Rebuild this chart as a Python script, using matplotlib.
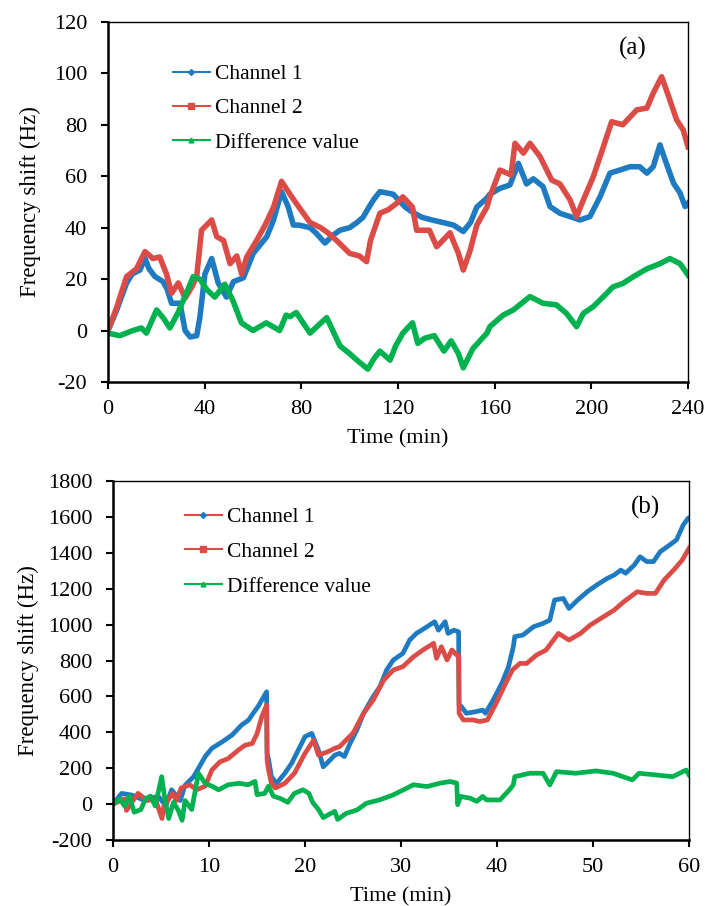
import matplotlib
matplotlib.use("Agg")
import matplotlib.pyplot as plt
from matplotlib.lines import Line2D

plt.rcParams['font.family'] = ['Liberation Serif', 'DejaVu Serif']
plt.rcParams['font.size'] = 15
plt.rcParams['axes.unicode_minus'] = False

# ---------------- Panel (a) data ----------------
a_ch1_t = [0, 3.6, 7.7, 10, 13.2, 15.3, 17, 19.4, 22.8, 24.5, 26.3, 29.8, 31.9, 34, 36.7, 38, 40.1, 42.9,
           45.6, 49, 51.9, 56, 60.1, 65.7, 68.5, 71.8, 74.6, 76.7, 79, 83.6, 86, 89.8, 93, 96, 100, 103,
           105.5, 108, 110, 112.5, 118, 123, 126, 130, 134, 138.6, 143, 147, 150, 152.6, 156.8, 158, 162.2,
           166.3, 169.8, 173.2, 176, 180, 182.9, 187, 191.2, 195.3, 199.4, 203.6, 207.7, 211.8, 216, 220,
           223, 225.6, 228.4, 230.5, 234, 236.7, 238.8, 240]
a_ch1_v = [0, 8, 18.5, 22, 23.5, 28, 24, 21, 19, 16, 10.6, 10.6, 0, -2.5, -2, 5, 22, 28,
           18.5, 13, 19, 20.5, 30, 36.5, 43, 54, 48, 41, 41, 40, 38, 34, 37, 39, 40, 42,
           44, 48, 51, 54, 53, 48, 46, 44, 43, 42, 41, 38.5, 42, 48, 51.5, 53, 55.3,
           56.6, 65, 57, 59, 56, 48.2, 45.6, 44.3, 43, 44.3, 52, 61.2, 62.4, 63.7, 63.7,
           61.2, 63.7, 72.2, 66.4, 57.3, 53.5, 48.2, 49.5]

a_ch2_t = [0, 3.6, 7.7, 11.8, 15.3, 18.6, 21.4, 24.2, 26.3, 29.1, 31.9, 34.7, 36.7, 38.7, 42.9, 45, 47.8,
           50.5, 53.3, 55.3, 57.4, 61.5, 65, 68.5, 71.8, 76, 79, 83.6, 88, 91, 94.6, 100, 104, 107, 108.6,
           112.5, 116, 119.5, 122, 126, 127.7, 133, 136, 138.5, 141.5, 145, 147, 149.8, 152.6, 156.8, 158,
           162.2, 166.8, 168.4, 171.9, 174.6, 178.8, 183.6, 187, 191.2, 193.9, 196.7, 200.8, 205, 208.4,
           213, 218.8, 223, 225.6, 229.1, 232.5, 235.3, 238, 240]
a_ch2_v = [0, 9, 21, 24, 30.7, 28, 28.6, 22, 14.5, 18.5, 12.6, 17, 21, 39, 43, 36.5, 35,
           26, 29, 22, 28.6, 35, 41, 48, 58, 52, 48, 42, 40, 38, 35, 30, 29, 26.8, 35,
           45.6, 47, 49.5, 52, 48, 39, 39, 32.6, 35, 38, 30, 23.5, 31, 41, 48, 52,
           62.4, 60.5, 72.8, 69, 72.8, 67.6, 58.5, 57, 50.8, 44.3, 50.8, 59.8, 71.5, 81.2,
           80, 85.8, 86.5, 92.3, 98.7, 89.6, 81.9, 78, 71.5]

a_diff_t = [0, 4.8, 10.3, 13.8, 15.9, 20.1, 22.8, 25.6, 29, 32.4, 35.3, 38, 40.8, 44.2, 48.3, 51.7, 55.2,
            60, 65.5, 71, 73.7, 75.3, 77.9, 80, 83.6, 87, 90.5, 93, 96, 100, 103, 107.5, 110, 112.5,
            116.7, 119, 122, 126, 128.2, 131, 135, 139, 142, 145, 147, 151, 156.8, 158, 163.5, 167.7,
            174.6, 180, 185.5, 189.7, 193.9, 196.7, 200.8, 205, 209, 213, 217.5, 223, 228.4, 232.5, 236.7, 240]
a_diff_v = [-1, -2, 0, 1, -1, 8, 5, 1, 7, 14.5, 21, 20, 16, 13, 18, 11.6, 3,
            0, 3, 0, 6, 5.4, 7, 4, -1, 2, 5, 0, -6, -9, -11.5, -15, -11, -8,
            -11.5, -6, -1, 3, -5, -3, -2, -8, -4, -9, -14.5, -7, -1, 1.5, 6, 8,
            13.2, 10.6, 10, 6.7, 1.5, 6.7, 9.3, 13.2, 17, 18.3, 21, 24, 26, 28, 26, 21.6]

# ---------------- Panel (b) data ----------------
b_ch1_t = [0, 0.9, 2, 3.3, 4.7, 5.5, 6.1, 7, 7.5, 8.4, 9.1, 9.6, 10.3, 11.4, 12.4, 13.4, 14.1, 14.6, 15.1,
           16, 16.05, 16.2, 16.5, 17.05, 17.9, 18.6, 19.3, 20, 20.7, 21.4, 21.9, 22.6, 23.1, 23.6, 24.1,
           24.7, 25.4, 26.1, 27.1, 27.8, 28.5, 29.2, 30.2, 30.9, 31.6, 32.7, 33.5, 33.9, 34.6, 34.9, 35.5,
           36, 36.05, 36.3, 36.8, 37.8, 38.5, 38.8, 39.6, 40.5, 41.2, 41.7, 41.85, 42.7, 43.8, 44.8, 45.5,
           46, 46.9, 47.5, 48.4, 49.4, 50.4, 51.5, 52.2, 52.9, 53.4, 54.3, 54.9, 55.6, 56.3, 57, 58, 58.7,
           59.4, 59.9, 60]
b_ch1_v = [0, 60, 50, 20, 45, -10, 80, 20, 105, 153, 218, 265, 311, 348, 385, 441, 467, 506, 543,
           626, 285, 250, 153, 116, 172, 227, 301, 376, 394, 301, 208, 245, 273, 283, 265,
           339, 413, 506, 599, 654, 747, 803, 840, 914, 951, 988, 1016, 969, 1016, 951, 969,
           960, 552, 543, 506, 515, 524, 506, 580, 673, 766, 877, 933, 942, 988, 1007, 1025,
           1137, 1146, 1090, 1137, 1183, 1221, 1258, 1276, 1304, 1286, 1332, 1378, 1351, 1351, 1406, 1444, 1472,
           1555, 1592, 1595]

b_ch2_t = [0, 1.2, 1.4, 2.6, 3.6, 4.4, 5.1, 5.3, 6.2, 6.6, 7.1, 8, 8.7, 9.6, 10.3, 11.15, 12, 13.05, 13.75,
           14.5, 15, 15.5, 16, 16.05, 16.2, 16.5, 16.9, 17.9, 18.9, 20, 20.9, 21.4, 22.3, 23.1, 23.6, 24.3,
           25, 26.1, 27.1, 28.2, 29.2, 30.2, 31.3, 32.3, 33.4, 33.7, 34.2, 34.8, 35.3, 35.8, 36, 36.05, 36.5,
           37.5, 38.2, 39, 39.9, 40.9, 41.6, 42.4, 43.1, 44.1, 45.1, 46.4, 47.5, 48.7, 49.7, 50.8, 52.2,
           53.2, 54.6, 55.6, 56.5, 57.4, 58.4, 59.3, 60]
b_ch2_v = [0, 30, -35, 60, 20, 30, -80, -10, 60, 20, 90, 108, 80, 100, 190, 236, 254, 301, 328,
           338, 392, 487, 552, 246, 190, 116, 90, 116, 172, 283, 357, 273, 290, 311, 320, 358,
           395, 506, 580, 691, 747, 766, 821, 859, 896, 812, 877, 803, 859, 831, 831, 506, 469,
           469, 460, 469, 561, 673, 747, 784, 784, 830, 858, 951, 914, 951, 997, 1034, 1081,
           1127, 1183, 1174, 1174, 1248, 1304, 1360, 1425]

b_diff_t = [0, 0.7, 1.2, 1.7, 2.2, 2.9, 3.4, 3.9, 4.4, 5.07, 5.4, 5.8, 6.3, 6.8, 7.2, 7.5, 8.2, 8.9, 9.6,
            10.3, 11, 12, 13.1, 14.1, 14.8, 15, 15.8, 16.2, 16.7, 17.5, 18.2, 18.9, 19.8, 20.4, 20.8, 21.4,
            21.9, 22.4, 23.1, 23.4, 24.3, 25.4, 26.4, 27.8, 29.2, 30.6, 31.3, 32.7, 34.1, 35.1, 35.8, 35.9,
            36.2, 37.2, 37.9, 38.5, 38.9, 40.3, 41.3, 41.7, 41.85, 43.4, 44.8, 45.5, 46.2, 48.2, 50.3, 52.1,
            53.1, 54.1, 54.8, 56.5, 58.3, 59.7, 60]
b_diff_v = [0, 30, -10, 45, -45, -30, 30, 45, -10, 153, 30, -80, 10, -35, -90, 20, -30, 172, 116,
            100, 80, 108, 116, 108, 127, 53, 60, 100, 45, 30, 10, 60, 80, 60, 10, -30,
            -75, -60, -40, -85, -51, -33, 5, 24, 52, 89, 108, 98, 117, 126, 117, -3,
            43, 33, 15, 43, 24, 23, 80, 108, 153, 172, 172, 107, 181, 172, 185, 172,
            153, 135, 172, 163, 153, 190, 163]

labels = ["Channel 1", "Channel 2", "Difference value"]
a_xticks = [0, 40, 80, 120, 160, 200, 240]
a_yticks = [-20, 0, 20, 40, 60, 80, 100, 120]
b_xticks = [0, 10, 20, 30, 40, 50, 60]
b_yticks = [-200, 0, 200, 400, 600, 800, 1000, 1200, 1400, 1600, 1800]

BLUE = '#1f7bc1'
RED = '#dc4c47'
GREEN = '#00b14f'

fig = plt.figure(figsize=(7.05, 9.06), dpi=100)
ax1 = fig.add_axes([0.1532, 0.5784, 0.8227, 0.3974])
ax2 = fig.add_axes([0.1603, 0.0728, 0.8170, 0.3963])


def style(ax, xt, yt, xlim, ylim, ylabelpad):
    ax.set_xlim(*xlim)
    ax.set_ylim(*ylim)
    ax.set_xticks(xt)
    ax.set_yticks(yt)
    ax.tick_params(direction='out', length=5, width=1.5, labelsize=16,
                   top=False, right=False)
    ax.tick_params(axis='y', pad=10)
    ax.tick_params(axis='x', pad=8)
    for s in ['left', 'bottom']:
        ax.spines[s].set_linewidth(1.8)
    for s in ['top', 'right']:
        ax.spines[s].set_linewidth(1.0)
    ax.set_xlabel("Time (min)", fontsize=16, labelpad=7)
    ax.set_ylabel("Frequency shift (Hz)", fontsize=16.5, labelpad=ylabelpad)


# Panel (a)
ax1.plot(a_ch1_t, a_ch1_v, color=BLUE, lw=4.0, solid_joinstyle='round')
ax1.plot(a_ch2_t, a_ch2_v, color=RED, lw=4.0, solid_joinstyle='round')
ax1.plot(a_diff_t, a_diff_v, color=GREEN, lw=4.0, solid_joinstyle='round')
style(ax1, a_xticks, a_yticks, (0, 240), (-20, 120), 9)
ax1.text(0.905, 0.925, "(a)", transform=ax1.transAxes, ha='center', va='center', fontsize=18)
ha = [Line2D([], [], color=BLUE, lw=1.5, marker='D', ms=3),
      Line2D([], [], color=RED, lw=1.5, marker='s', ms=5),
      Line2D([], [], color=GREEN, lw=1.5, marker='^', ms=3.5)]
ax1.legend(ha, labels, loc='upper left', bbox_to_anchor=(0.112, 0.883), frameon=False,
           fontsize=15.5, handlelength=1.7, handletextpad=0.25, labelspacing=0.66,
           borderpad=0, borderaxespad=0)

# Panel (b)
ax2.plot(b_ch1_t, b_ch1_v, color=BLUE, lw=3.4, solid_joinstyle='round')
ax2.plot(b_ch2_t, b_ch2_v, color=RED, lw=3.4, solid_joinstyle='round')
ax2.plot(b_diff_t, b_diff_v, color=GREEN, lw=3.4, solid_joinstyle='round')
style(ax2, b_xticks, b_yticks, (0, 60), (-200, 1800), 6)
ax2.text(0.925, 0.925, "(b)", transform=ax2.transAxes, ha='center', va='center', fontsize=18)
hb = [Line2D([], [], color=RED, lw=1.5, marker='D', ms=3, markerfacecolor=BLUE, markeredgecolor=BLUE),
      Line2D([], [], color=RED, lw=1.5, marker='s', ms=5),
      Line2D([], [], color=GREEN, lw=1.5, marker='^', ms=3.5)]
ax2.legend(hb, labels, loc='upper left', bbox_to_anchor=(0.125, 0.927), frameon=False,
           fontsize=15.5, handlelength=1.7, handletextpad=0.25, labelspacing=0.68,
           borderpad=0, borderaxespad=0)

fig.savefig("out.png", dpi=100)
